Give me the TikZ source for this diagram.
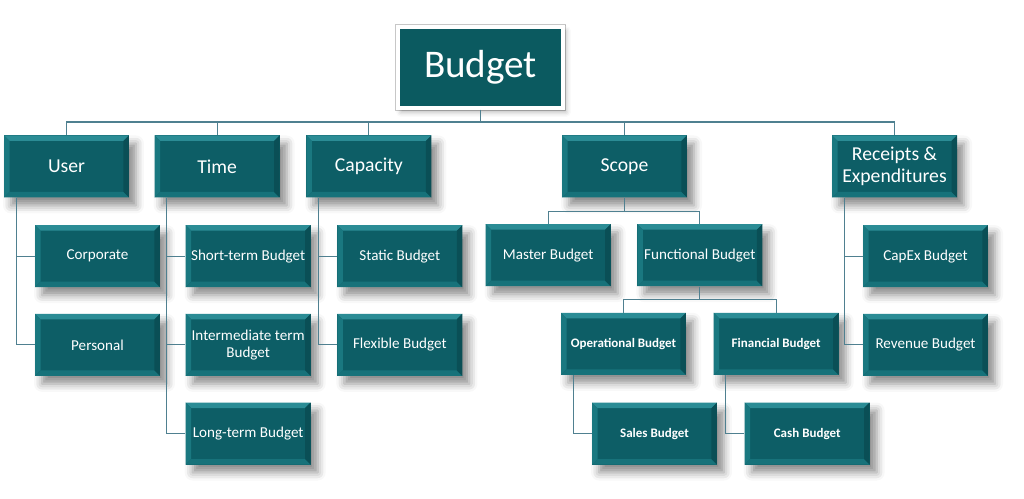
\documentclass[tikz,border=0pt]{standalone}
\usepackage{fontspec}
\setmainfont{Carlito}
\usetikzlibrary{positioning,calc,shadows.blur}

\definecolor{rootface}{HTML}{0B5A60}
\definecolor{tealface}{HTML}{0D5E66}
\definecolor{tealtop}{HTML}{2B8C95}
\definecolor{tealleft}{HTML}{1A7880}
\definecolor{tealbot}{HTML}{17727A}
\definecolor{tealright}{HTML}{0A4F56}
\definecolor{linkcol}{HTML}{4F8090}

\newcommand\bevw{0.11cm}
\tikzset{
  box/.style={rectangle,fill=tealface,text=white,align=center,inner sep=1pt,
    minimum width=2.5cm,minimum height=1.24cm,
    blur shadow={shadow xshift=0.14cm,shadow yshift=-0.16cm,shadow blur radius=0.16cm,shadow opacity=45},
    path picture={
      \fill[tealtop] (path picture bounding box.north west) -- (path picture bounding box.north east)
        -- ++(-\bevw,-\bevw) -- ([shift={(\bevw,-\bevw)}]path picture bounding box.north west) -- cycle;
      \fill[tealleft] (path picture bounding box.north west) -- (path picture bounding box.south west)
        -- ++(\bevw,\bevw) -- ([shift={(\bevw,-\bevw)}]path picture bounding box.north west) -- cycle;
      \fill[tealbot] (path picture bounding box.south west) -- (path picture bounding box.south east)
        -- ++(-\bevw,\bevw) -- ([shift={(\bevw,\bevw)}]path picture bounding box.south west) -- cycle;
      \fill[tealright] (path picture bounding box.north east) -- (path picture bounding box.south east)
        -- ++(-\bevw,\bevw) -- ([shift={(-\bevw,-\bevw)}]path picture bounding box.north east) -- cycle;
    }},
  rootbox/.style={rectangle,fill=rootface,draw=white,line width=2pt,text=white,
    minimum width=3.3cm,minimum height=1.62cm,font=\fontsize{22.3}{24}\selectfont,
    preaction={draw=black!22,line width=3pt},
    blur shadow={shadow xshift=0.06cm,shadow yshift=-0.08cm,shadow blur radius=0.1cm,shadow opacity=30}},
  catbox/.style={box,font=\fontsize{11.2}{12.5}\selectfont},
  subbox/.style={box,font=\fontsize{8.6}{9.7}\selectfont},
  leafbox/.style={box,font=\bfseries\fontsize{7.4}{8.5}\selectfont},
  link/.style={draw=linkcol,line width=0.7pt},
}

\begin{document}
\begin{tikzpicture}[x=0.02cm,y=0.02cm]
  \useasboundingbox (0,0) rectangle (1024,499);

  \node[rootbox] (budget) at (480.5,431.5) {Budget};

  \node[catbox] (user) at (66.5,332.5) {User};
  \node[catbox] (time) [right=0.5cm of user] {Time};
  \node[catbox] (cap) [right=0.52cm of time] {Capacity};
  \node[catbox] (scope) at (624.5,332.5) {Scope};
  \node[catbox] (rec) at (894.5,332.5) {Receipts \&\\Expenditures};

  \node[subbox] (corp) [below right=0.54cm and 0.62cm of user.south west] {Corporate};
  \node[subbox] (pers) [below=0.52cm of corp] {Personal};

  \node[subbox] (short) [below right=0.54cm and 0.62cm of time.south west] {Short-term Budget};
  \node[subbox] (inter) [below=0.52cm of short] {Intermediate term\\Budget};
  \node[subbox] (long) [below=0.52cm of inter] {Long-term Budget};

  \node[subbox] (static) [below right=0.54cm and 0.62cm of cap.south west] {Static Budget};
  \node[subbox] (flex) [below=0.52cm of static] {Flexible Budget};

  \node[subbox] (master) [below left=0.52cm and 0.27cm of scope.south] {Master Budget};
  \node[subbox] (func) [below right=0.52cm and 0.25cm of scope.south] {Functional Budget};
  \node[leafbox] (oper) [below left=0.52cm and 0.27cm of func.south] {Operational Budget};
  \node[leafbox] (fin) [below right=0.52cm and 0.27cm of func.south] {Financial Budget};
  \node[leafbox] (sales) [below right=0.54cm and 0.62cm of oper.south west] {Sales Budget};
  \node[leafbox] (cash) [below right=0.54cm and 0.62cm of fin.south west] {Cash Budget};

  \node[subbox] (capex) [below right=0.54cm and 0.62cm of rec.south west] {CapEx Budget};
  \node[subbox] (rev) [below=0.52cm of capex] {Revenue Budget};

  % connectors
  \coordinate (bus) at (480.5,377);
  \draw[link] (budget.south) -- (bus);
  \draw[link] (user.north) |- (bus) -| (rec.north);
  \foreach \n in {time,cap,scope}{
    \draw[link] (\n.north) -- (\n.north |- bus);
  }
  \foreach \a/\b in {user/corp,user/pers,time/short,time/inter,time/long,cap/static,cap/flex,
                     rec/capex,rec/rev,oper/sales,fin/cash}{
    \draw[link] ([xshift=0.25cm]\a.south west) |- (\b.west);
  }
  \foreach \b in {master,func}{
    \draw[link] (scope.south) -- ++(0,-14) -| (\b.north);
  }
  \foreach \b in {oper,fin}{
    \draw[link] (func.south) -- ++(0,-13) -| (\b.north);
  }
\end{tikzpicture}
\end{document}
